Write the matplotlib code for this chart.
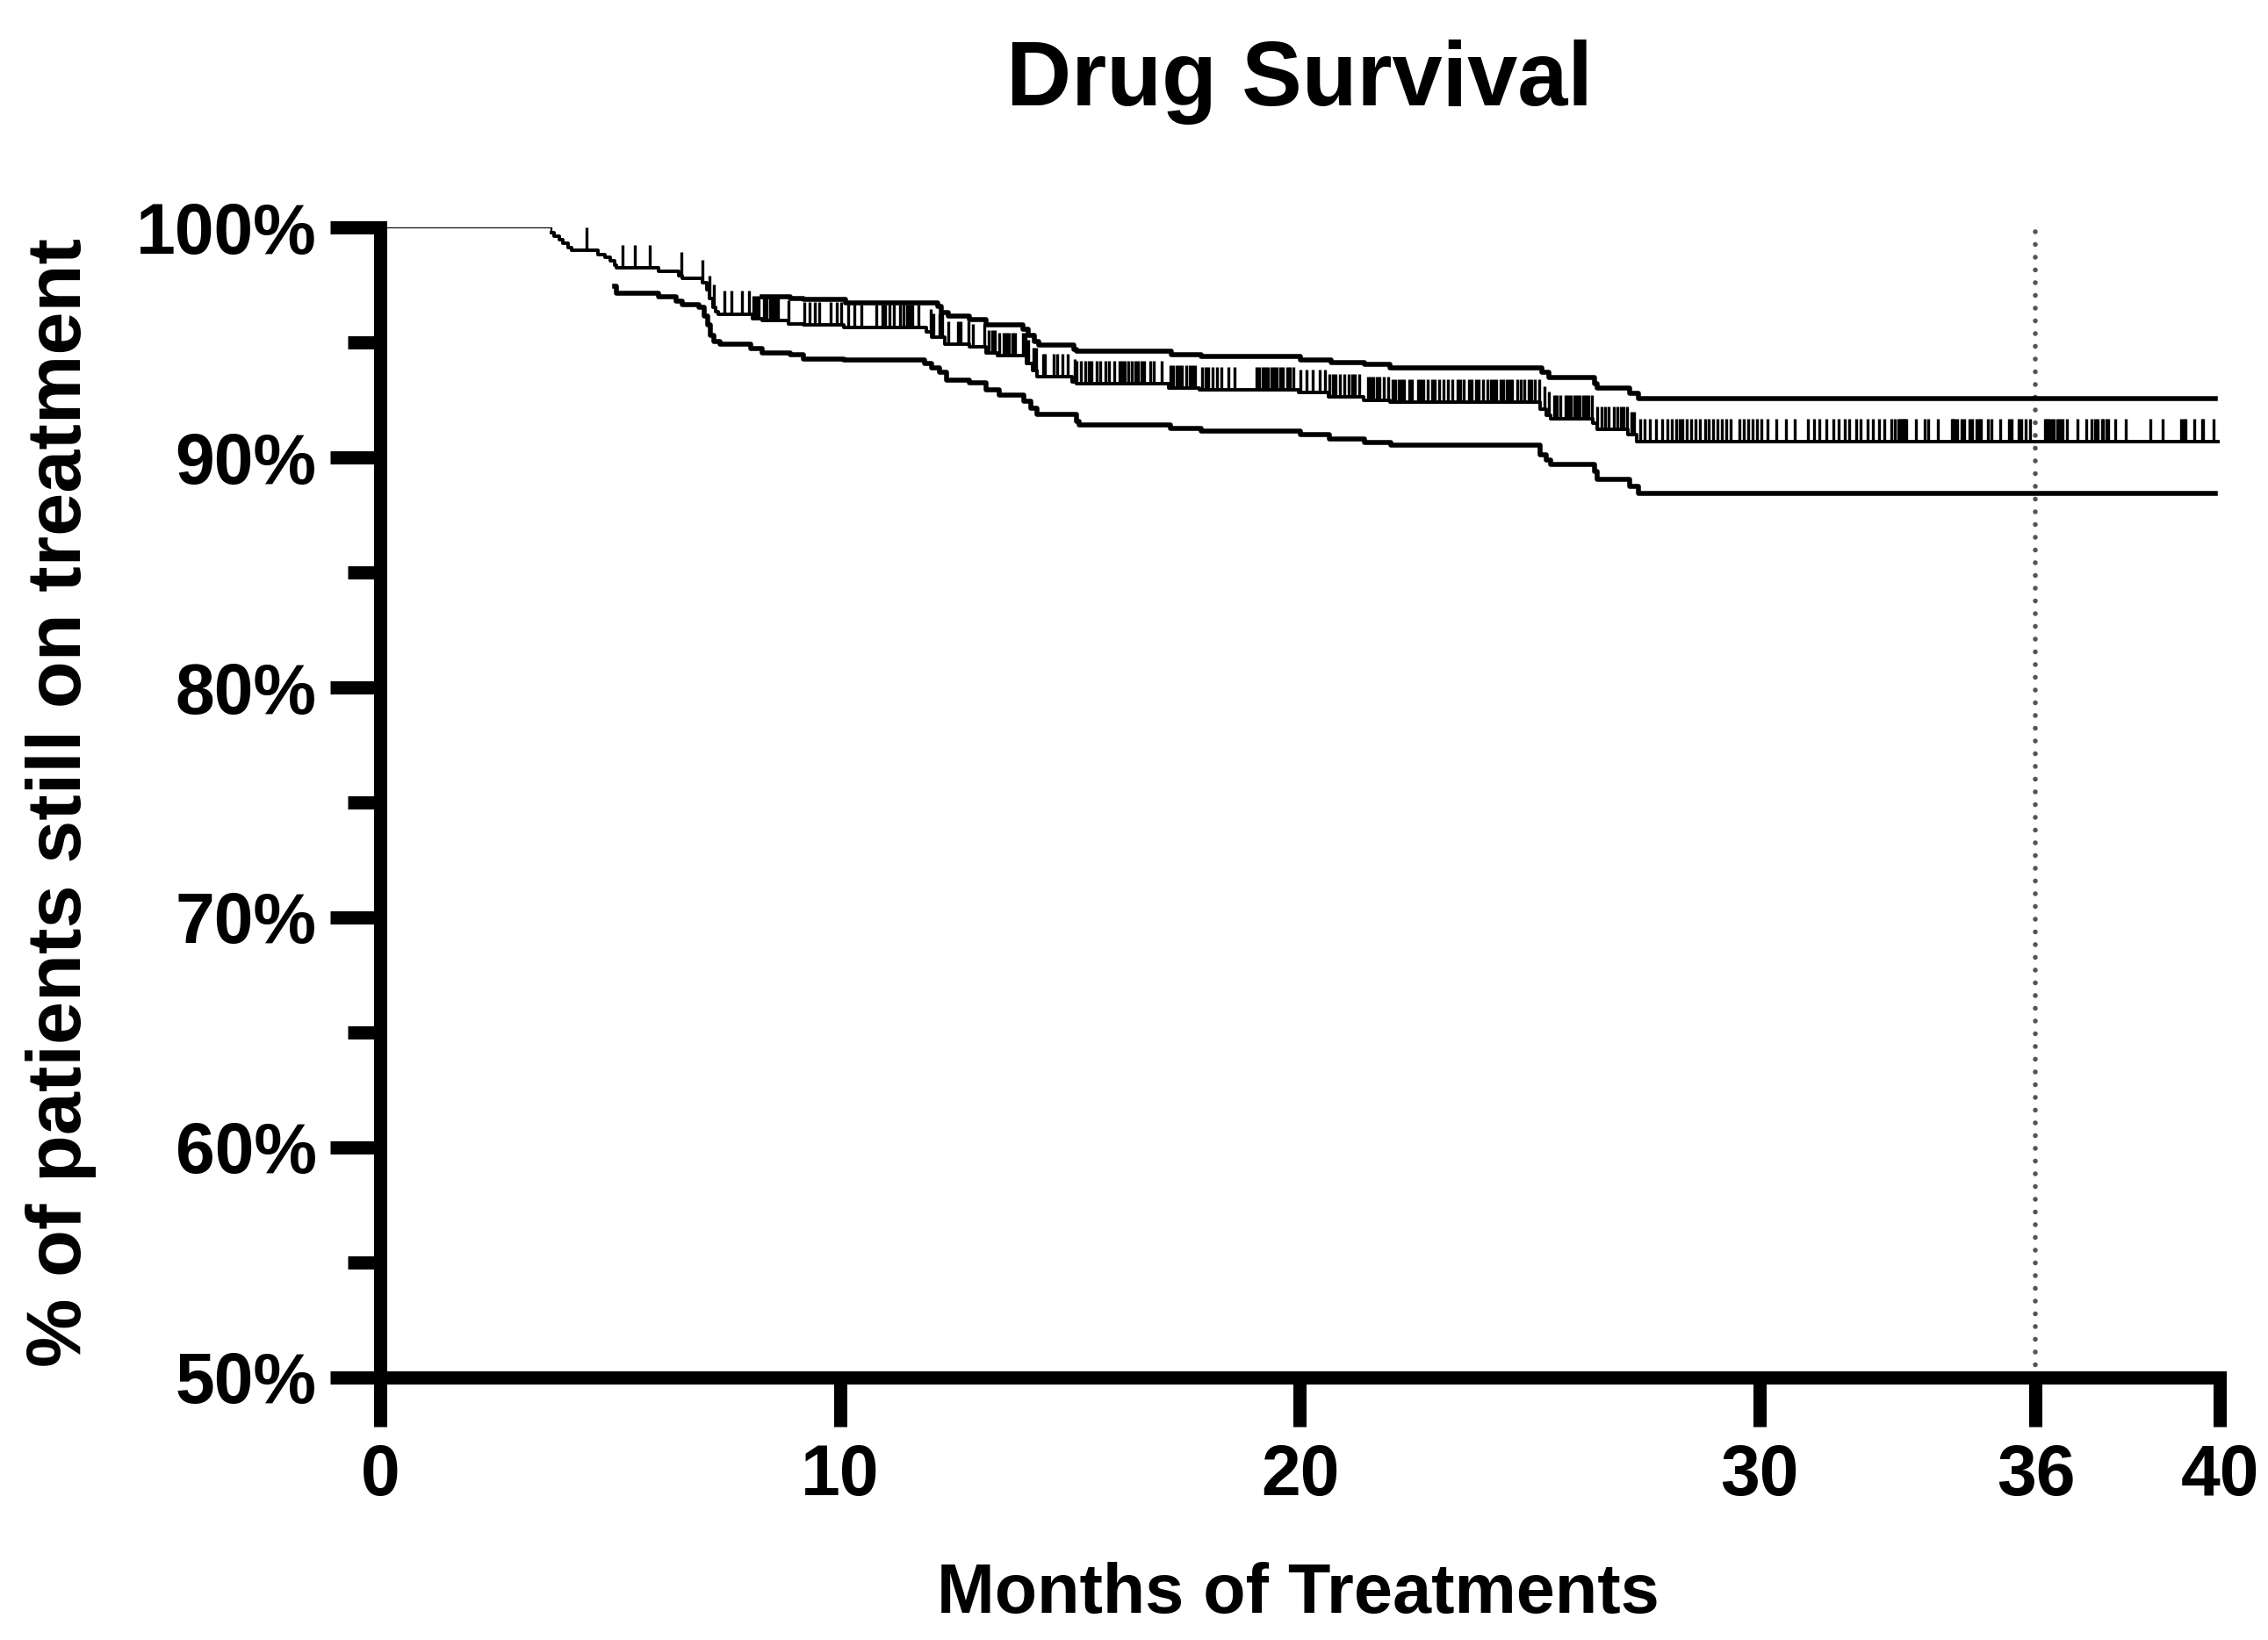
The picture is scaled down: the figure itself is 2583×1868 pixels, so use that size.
import matplotlib
matplotlib.use("Agg")
import matplotlib.pyplot as plt
import numpy as np

# Kaplan-Meier estimate (months, % still on treatment), step points
main_t = [0, 3.72, 3.79, 3.89, 3.98, 4.08, 4.17, 4.74, 4.88, 5.00, 5.10, 5.13,
          6.05, 6.50, 6.56, 7.00, 7.10, 7.16, 7.23, 7.29, 7.35, 8.09, 8.30,
          8.88, 9.20, 10.09, 11.87, 12.00, 12.28, 12.82, 13.17, 13.43, 14.06,
          14.19, 14.29, 15.05, 15.15, 17.15, 17.82, 19.98, 20.62, 21.38, 21.95,
          25.23, 25.35, 25.45, 26.37, 26.47, 27.14, 27.33, 40.0]
main_s = [100, 99.77, 99.64, 99.45, 99.32, 99.13, 99.0, 98.81, 98.69, 98.56, 98.37, 98.24,
          98.08, 97.92, 97.79, 97.60, 97.28, 96.90, 96.52, 96.33, 96.24, 96.04, 95.95,
          95.82, 95.76, 95.65, 95.45, 95.25, 94.93, 94.80, 94.54, 94.42, 94.10,
          93.78, 93.52, 93.27, 93.20, 93.01, 92.95, 92.82, 92.63, 92.50, 92.40,
          92.10, 91.85, 91.70, 91.48, 91.23, 90.98, 90.70, 90.70]

# 95% CI bounds
upper_t = [8.30, 8.91, 9.20, 10.12, 11.90, 12.12, 12.20, 12.35, 12.82, 13.17, 13.97,
           14.10, 14.22, 14.32, 15.08, 15.15, 17.21, 17.85, 20.01, 20.68, 21.41,
           21.95, 25.26, 25.42, 26.41, 26.47, 27.17, 27.36, 39.9]
upper_s = [97.0, 96.93, 96.88, 96.71, 96.71, 96.58, 96.29, 96.14, 96.01, 95.76, 95.56,
           95.30, 95.06, 94.89, 94.71, 94.61, 94.45, 94.38, 94.25, 94.12, 94.03,
           93.91, 93.70, 93.46, 93.20, 93.01, 92.80, 92.57, 92.57]

lower_t = [5.10, 5.13, 6.05, 6.43, 6.56, 6.94, 7.04, 7.13, 7.19, 7.26, 7.39, 8.05,
           8.31, 8.91, 9.20, 10.09, 11.83, 12.00, 12.16, 12.32, 12.82, 13.17, 13.46,
           14.00, 14.15, 14.29, 15.14, 15.20, 17.18, 17.85, 20.01, 20.65, 21.41,
           21.98, 25.23, 25.35, 25.45, 26.41, 26.47, 27.17, 27.36, 39.9]
lower_s = [97.45, 97.13, 97.0, 96.80, 96.65, 96.52, 96.14, 95.76, 95.31, 95.06, 94.93, 94.73,
           94.54, 94.45, 94.29, 94.23, 94.10, 93.90, 93.72, 93.35, 93.25, 92.95, 92.70,
           92.45, 92.15, 91.87, 91.55, 91.42, 91.27, 91.14, 90.98, 90.81, 90.65,
           90.55, 90.10, 89.90, 89.70, 89.40, 89.06, 88.75, 88.42, 88.42]

# censored observations (months)
censor_t = [
    4.49, 5.27, 5.53, 5.86, 6.55, 7.00, 7.17, 7.25, 7.48, 7.64, 7.86, 8.02, 8.12,
    8.18, 8.24, 8.34, 8.40, 8.47, 8.53, 8.59, 8.66, 8.88, 9.23, 9.33, 9.45, 9.55,
    9.80, 9.93, 10.03, 10.18, 10.31, 10.47, 10.79, 10.92, 10.98, 11.07, 11.17,
    11.30, 11.39, 11.46, 11.52, 11.58, 11.71, 11.97, 12.03, 12.16, 12.22, 12.35,
    12.57, 12.63, 12.79, 12.89, 13.14, 13.24, 13.30, 13.37, 13.46, 13.56, 13.62,
    13.68, 13.75, 13.81, 13.97, 14.03, 14.10, 14.21, 14.26, 14.41, 14.45, 14.64,
    14.73, 14.83, 14.96, 15.11, 15.15, 15.24, 15.34, 15.40, 15.46, 15.59, 15.65,
    15.78, 15.85, 15.97, 16.07, 16.13, 16.20, 16.26, 16.35, 16.42, 16.48, 16.55,
    16.61, 16.74, 16.83, 16.99, 17.18, 17.25, 17.31, 17.37, 17.44, 17.53, 17.60,
    17.66, 17.72, 17.88, 17.95, 18.01, 18.10, 18.20, 18.29, 18.45, 18.58, 19.06,
    19.12, 19.19, 19.25, 19.31, 19.38, 19.44, 19.50, 19.57, 19.63, 19.73, 19.79,
    19.85, 20.01, 20.14, 20.27, 20.43, 20.55, 20.65, 20.71, 20.78, 20.87, 20.97,
    21.06, 21.13, 21.19, 21.29, 21.48, 21.54, 21.60, 21.67, 21.73, 21.83, 21.92,
    22.02, 22.08, 22.14, 22.21, 22.27, 22.37, 22.43, 22.56, 22.62, 22.68, 22.78,
    22.88, 22.94, 23.03, 23.13, 23.22, 23.32, 23.42, 23.48, 23.57, 23.67, 23.73,
    23.83, 23.89, 23.99, 24.08, 24.15, 24.21, 24.27, 24.37, 24.43, 24.50, 24.56,
    24.62, 24.72, 24.81, 24.88, 24.97, 25.04, 25.10, 25.20, 25.32, 25.42, 25.52,
    25.58, 25.67, 25.77, 25.83, 25.90, 25.96, 26.02, 26.09, 26.15, 26.21, 26.28,
    26.34, 26.47, 26.56, 26.63, 26.72, 26.82, 26.91, 26.98, 27.04, 27.11, 27.20,
    27.26, 27.39, 27.49, 27.61, 27.74, 27.87, 27.99, 28.09, 28.19, 28.25, 28.31,
    28.41, 28.50, 28.60, 28.70, 28.82, 28.89, 28.98, 29.08, 29.17, 29.27, 29.36,
    29.55, 29.65, 29.75, 29.84, 29.94, 30.03, 30.16, 30.35, 30.57, 30.76, 31.05,
    31.18, 31.30, 31.45, 31.60, 31.72, 31.85, 31.95, 32.10, 32.20, 32.35, 32.45,
    32.60, 32.70, 32.86, 32.93, 33.02, 33.05, 33.08, 33.12, 33.15, 33.18, 33.40,
    33.59, 33.66, 33.88, 34.17, 34.20, 34.23, 34.29, 34.39, 34.45, 34.55, 34.61,
    34.71, 34.77, 34.80, 34.96, 35.03, 35.22, 35.41, 35.47, 35.63, 35.69, 35.79,
    35.88, 36.20, 36.23, 36.27, 36.33, 36.39, 36.46, 36.52, 36.58, 36.68, 36.90,
    37.09, 37.22, 37.28, 37.35, 37.44, 37.47, 37.54, 37.57, 37.73, 37.95, 38.49,
    38.75, 39.16, 39.22, 39.26, 39.45, 39.61, 39.64, 39.86,
]

x_ticks = [0, 10, 20, 30, 36, 40]
y_major = [50, 60, 70, 80, 90, 100]
y_minor = [55, 65, 75, 85, 95]
y_labels = ["50%", "60%", "70%", "80%", "90%", "100%"]
cutoff_month = 36

FONT = "Liberation Sans"

fig = plt.figure(figsize=(25.83, 18.68), dpi=100)
ax = fig.add_axes([0.1676, 0.1601, 0.8111, 0.7012])

# flat start is drawn thin, the rest of the curve heavier
ax.step(main_t[:2], main_s[:2], where="post", color="black", lw=1.6, zorder=3)
ax.step(main_t[1:], main_s[1:], where="post", color="black", lw=2.8, zorder=3)
ax.step(upper_t, upper_s, where="post", color="black", lw=4.0, zorder=3)
ax.step(lower_t, lower_s, where="post", color="black", lw=4.0, zorder=3)

# censor marks sit on the KM curve and point upward
idx = np.searchsorted(main_t, censor_t, side="right") - 1
base = np.array(main_s)[idx]
ax.vlines(censor_t, base, base + 1.0, color="black", lw=2.4, zorder=3)

ax.vlines(cutoff_month, 50, 100, color="#555555", lw=4.0,
          linestyles=(0, (0.01, 2.6)), capstyle="round", zorder=2)

ax.set_xlim(0, 40)
ax.set_ylim(50, 100)

for side in ["top", "right"]:
    ax.spines[side].set_visible(False)
for side in ["left", "bottom"]:
    ax.spines[side].set_linewidth(10.8)

ax.set_xticks(x_ticks)
ax.set_xticklabels([str(v) for v in x_ticks])
ax.set_yticks(y_major)
ax.set_yticklabels(y_labels)
ax.set_yticks(y_minor, minor=True)

ax.tick_params(axis="x", which="major", length=40, width=10.8, pad=14)
ax.tick_params(axis="y", which="major", length=41, width=10.8, pad=11)
ax.tick_params(axis="y", which="minor", length=26.5, width=10.8)
for lab in ax.get_xticklabels() + ax.get_yticklabels():
    lab.set_fontfamily(FONT)
    lab.set_fontweight("bold")
    lab.set_fontsize(58)

fig.text(0.573, 0.9358, "Drug Survival", family=FONT, weight="bold",
         fontsize=74, ha="center", va="baseline")
fig.text(0.5725, 0.0165, "Months of Treatments", family=FONT, weight="bold",
         fontsize=57, ha="center", va="baseline")
fig.text(0.027, 0.5107, "% of patients still on treatment", family=FONT,
         weight="bold", fontsize=63.5, rotation=90, ha="center", va="center")

fig.savefig("out.png", dpi=100, facecolor="white")
